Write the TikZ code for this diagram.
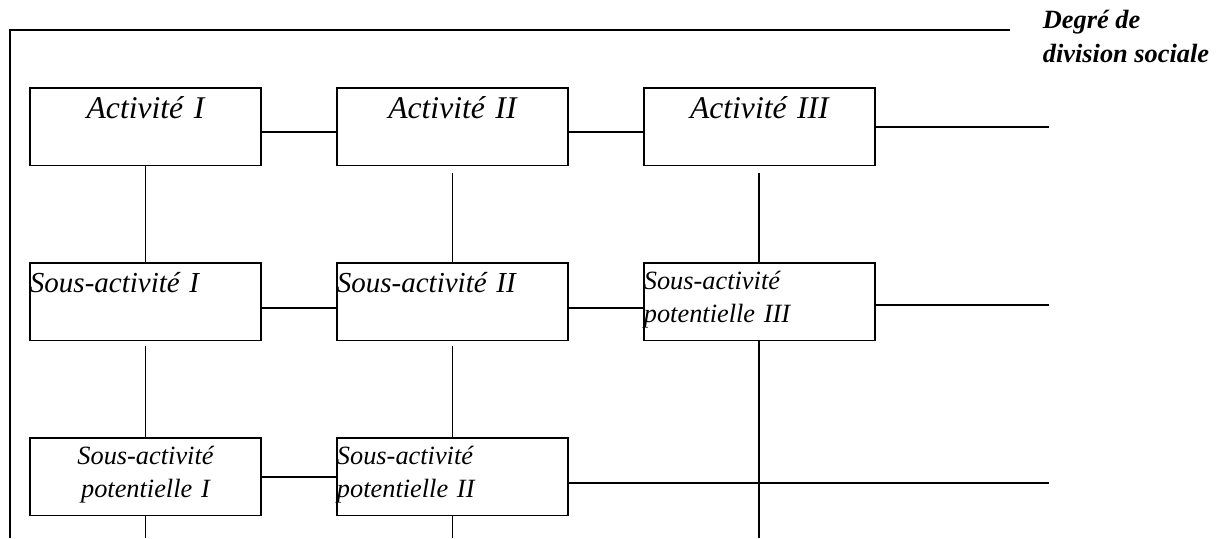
\documentclass[tikz,border=0pt]{standalone}
\usepackage{fontspec}
\setmainfont{Liberation Serif}
\usetikzlibrary{positioning}

\begin{document}
\begin{tikzpicture}[x=0.02cm, y=-0.02cm,
    node distance=1.95cm and 1.52cm,
    line width=1pt,
    box/.style={draw, inner sep=0pt, outer sep=0pt,
                minimum width=4.62cm, minimum height=1.55cm, text width=4.62cm},
    act/.style={box, font=\fontsize{18}{20}\selectfont\itshape, align=center,
                text height=0.62cm, text depth=0.93cm},
    sous/.style={box, font=\fontsize{16.5}{19}\selectfont\itshape, align=left,
                text height=0.6cm, text depth=0.95cm},
    pot/.style={box, font=\fontsize{15}{18.7}\selectfont\itshape,
                text height=0.53cm, text depth=1.02cm},
    lbl/.style={font=\fontsize{15}{19.8}\selectfont\bfseries\itshape,
                align=left, inner sep=0pt, anchor=north west}]

    \useasboundingbox (0,0) rectangle (1226,538);

    % axes
    \coordinate (coin) at (10,30);
    \coordinate (axe)  at (1010,30);
    \coordinate (fin)  at (1049,0);
    \coordinate (bas)  at (0,538);
    \draw (axe) -- (coin) -- (coin |- bas);
    \node[lbl] (degre) at (1042,9) {Degré de\\division sociale};

    % activites
    \node[act, anchor=north west] (act1) at (30,88) {Activité I};
    \node[act, right=of act1] (act2) {Activité II};
    \node[act, right=of act2] (act3) {Activité III};

    \node[sous, below=of act1] (sous1) {Sous-activité I};
    \node[sous, below=of act2] (sous2) {Sous-activité II};
    \node[pot, align=left, below=of act3] (sous3) {Sous-activité\\potentielle III};

    \node[pot, align=center, below=of sous1] (pot1) {Sous-activité\\potentielle I};
    \node[pot, align=left, below=of sous2] (pot2) {Sous-activité\\potentielle II};

    % liens horizontaux
    \draw ([yshift=-0.1cm]act1.east) -- ([yshift=-0.1cm]act2.west);
    \draw ([yshift=-0.1cm]act2.east) -- ([yshift=-0.1cm]act3.west);
    \draw (act3.east) -- (act3.east -| fin);
    \draw ([yshift=-0.12cm]sous1.east) -- ([yshift=-0.12cm]sous2.west);
    \draw ([yshift=-0.12cm]sous2.east) -- ([yshift=-0.12cm]sous3.west);
    \draw ([yshift=-0.06cm]sous3.east) coordinate (d2) -- (d2 -| fin);
    \draw (pot1.east) -- (pot2.west);
    \draw ([yshift=-0.12cm]pot2.east) coordinate (d3) -- (d3 -| fin);

    % liens verticaux
    \draw (act1.south) -- (sous1.north);
    \draw ([yshift=-0.16cm]act2.south) -- (sous2.north);
    \draw ([yshift=-0.16cm]act3.south) -- (sous3.north);
    \draw ([yshift=-0.12cm]sous1.south) -- (pot1.north);
    \draw ([yshift=-0.12cm]sous2.south) -- (pot2.north);
    \draw (sous3.south) -- (sous3.south |- bas);
    \draw (pot1.south) -- (pot1.south |- bas);
    \draw (pot2.south) -- (pot2.south |- bas);
\end{tikzpicture}
\end{document}
